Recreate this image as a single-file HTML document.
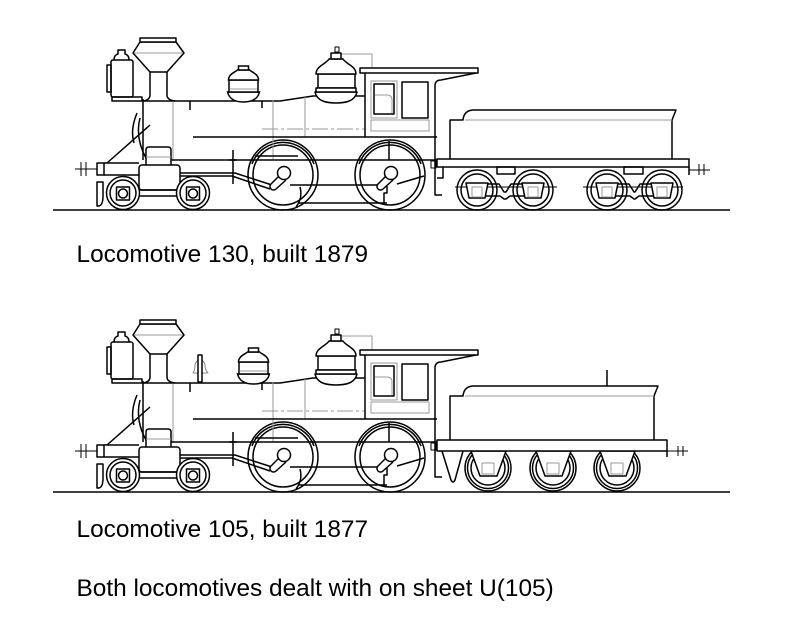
<!DOCTYPE html>
<html><head><meta charset="utf-8">
<style>
html,body{margin:0;padding:0;background:#fff;}
svg{display:block;}
text{font-family:"Liberation Sans",Arial,sans-serif;font-size:24.4px;fill:#000;}
</style></head><body>
<svg width="800" height="628" viewBox="0 0 800 628" xmlns="http://www.w3.org/2000/svg">
<defs>
<g id="dome" fill="#fff" stroke="#000" stroke-width="1.5">
  <path d="M-16,92 H16 C14,100 7,102 0,102 C-7,102 -14,100 -16,92 Z"/>
  <rect x="-14.5" y="80" width="29" height="12"/>
  <path d="M-15,80 C-15,74 -8,72 -6,70 H6 C8,72 15,74 15,80 Z"/>
  <rect x="-5" y="66" width="10" height="4"/>
  <path d="M-14,89 H14" stroke="#999" stroke-width="1" fill="none"/>
</g>
<g id="loco" fill="none" stroke="#000" stroke-width="1.5" stroke-linejoin="round">
  <!-- ground -->
  <path d="M53,210 H730"/>
  <!-- drivers -->
  <circle cx="283" cy="175" r="35"/>
  <circle cx="283" cy="175" r="30"/>
  <path d="M252,164 A33,33 0 0 1 314,164"/>
  <circle cx="390" cy="175" r="35"/>
  <circle cx="390" cy="175" r="30"/>
  <path d="M359,164 A33,33 0 0 1 421,164"/>
  <path d="M300,187 Q303,198 296,207 M389,141 V160 M387,186 V193 H384 V205"/>
  <!-- boiler -->
  <path d="M143,101 H280 L313,96 H365"/>
  <path d="M143,99 V160"/>
  <g stroke="#999" stroke-width="1">
    <path d="M173,101 V160 M273,100 V160 M305,97 V137"/>
    <path d="M262,129 H365" stroke-dasharray="16 3 3 3"/>
  </g>
  <path d="M190,101 V110 M262,101 V108"/>
  <path d="M193,137 H437"/>
  <path d="M171,160 H437"/>
  <path d="M255,156 H298"/>
  <!-- rods -->
  <path d="M180,173 H235 L272,185 M180,176 H232 L270,189"/>
  <path d="M290,185 H384 M397,184 L424,176 M298,203 H387"/>
  <path d="M233,150 V184 M229,160 H237"/>
  <path d="M279,176 L271,184 A3.5,3.5 0 0 0 276,189 L286,180" fill="#fff"/>
  <circle cx="284" cy="173" r="6.5" fill="#fff"/>
  <path d="M386,176 L378,184 A3.5,3.5 0 0 0 383,189 L393,180" fill="#fff"/>
  <circle cx="391" cy="173" r="6.5" fill="#fff"/>
  <!-- stack -->
  <path d="M140,42 L133,53 L150,72 H167 L184,53 L176,42 Z" fill="#fff"/>
  <path d="M134,53 H183" stroke="#999" stroke-width="1"/>
  <rect x="140" y="38" width="36" height="4" fill="#fff"/>
  <path d="M150,72 V95 Q150,100 143,101 M167,72 V95 Q167,100 175,101"/>
  <!-- headlamp -->
  <path d="M114,60 Q114,55 118,54 V50 H125 V54 Q129,55 129,60"/>
  <rect x="111" y="60" width="22" height="37" rx="2" fill="#fff"/>
  <rect x="107" y="65" width="4" height="27"/>
  <rect x="112" y="97" width="30" height="4"/>
  <!-- braces -->
  <path d="M107,163 L150,125"/>
  <path d="M137,113 Q130,130 134,143 M140,118 Q135,138 146,158"/>
  <!-- front -->
  <path d="M75,169 H97 M81,162 V176 M86,162 V176" stroke-width="1"/>
  <rect x="97" y="163" width="7" height="12"/>
  <path d="M104,163 H139 M104,175 H139"/>
  <path d="M97,182 H103 V196 Q103,205 99,206 H97 Z"/>
  <!-- cylinder -->
  <path d="M146,165 V150 Q146,147 149,147 H168 Q171,147 171,150 V165" fill="#fff"/>
  <path d="M146,157 H171" stroke="#999" stroke-width="1"/>
  <rect x="139" y="165" width="41" height="25" rx="3" fill="#fff"/>
  <!-- leading truck -->
  <path d="M140,190 H177 M140,196 H177"/>
  <circle cx="123" cy="193" r="16.5" fill="#fff"/>
  <circle cx="123" cy="193" r="13"/>
  <rect x="116.5" y="187" width="13" height="13"/>
  <circle cx="123" cy="193.5" r="4.5"/>
  <circle cx="193" cy="193" r="16.5" fill="#fff"/>
  <circle cx="193" cy="193" r="13"/>
  <rect x="186.5" y="187" width="13" height="13"/>
  <circle cx="193" cy="193.5" r="4.5"/>
  <!-- steam dome & whistle -->
  <path d="M341,54 H372 V68" stroke="#999" stroke-width="1"/>
  <rect x="335" y="47" width="4" height="5" stroke-width="1"/>
  <path d="M315,92 H357 C355,101 346,103 336,103 C326,103 317,101 315,92 Z" fill="#fff"/>
  <rect x="318" y="74" width="37" height="14" fill="#fff"/>
  <rect x="316" y="88" width="40" height="4" fill="#fff"/>
  <path d="M316,74 C316,66 326,64 329,59 H343 C346,64 356,66 356,74 Z" fill="#fff"/>
  <rect x="331" y="53" width="10" height="6" fill="#fff"/>
  <!-- cab -->
  <rect x="360" y="68" width="118" height="5" fill="#fff"/>
  <path d="M365,73 V137"/>
  <path d="M435,137 V86 Q435,80 441,80 L476,73"/>
  <rect x="371" y="81" width="26" height="37" stroke="#999" stroke-width="1"/>
  <rect x="374" y="84" width="20" height="30"/>
  <path d="M375,95 H387 Q392,95 392,100 V113" stroke="#999" stroke-width="1"/>
  <rect x="402" y="82" width="26" height="36"/>
  <rect x="371" y="120" width="58" height="11" stroke="#999" stroke-width="1"/>
  <!-- rear -->
  <path d="M435,137 V195 H442"/>
  <rect x="431" y="161" width="5" height="7" stroke-width="1"/>
</g>
</defs>

<!-- Locomotive 1 -->
<use href="#loco"/>
<use href="#dome" transform="translate(243.5,0)"/>
<g fill="none" stroke="#000" stroke-width="1.5" stroke-linejoin="round">
  <path d="M450,159 V120 H463 Q464,110 474,110 H676 L672,120 V159"/>
  <path d="M465,120 H672" stroke="#999" stroke-width="1"/>
  <rect x="437" y="159" width="252" height="8" fill="#fff"/>
  <path d="M689,167 V175 M443,167 V178 H437"/>
  <path d="M689,170 H710 M699,164 V175 M704,164 V175" stroke-width="1"/>
  <rect x="497" y="167" width="18" height="7"/>
  <rect x="624" y="167" width="19" height="7"/>
  <circle cx="477" cy="190" r="20"/><circle cx="477" cy="190" r="16"/>
  <circle cx="533" cy="190" r="20"/><circle cx="533" cy="190" r="16"/>
  <circle cx="607" cy="190" r="20"/><circle cx="607" cy="190" r="16"/>
  <circle cx="662" cy="190" r="20"/><circle cx="662" cy="190" r="16"/>
  <path d="M455,187 H557 M583,187 H683" stroke-width="1"/>
  <path d="M488,184 L499,184 L504,192 H506 L511,184 H522"/>
  <path d="M486,196 L500,196 L504,199 H506 L510,196 H524"/>
  <path d="M618,184 L629,184 L634,192 H635 L640,184 H651"/>
  <path d="M616,196 L630,196 L634,199 H635 L639,196 H653"/>
  <path d="M466,183 H488 L485,198 H469 Z" fill="#fff"/>
  <path d="M522,183 H544 L541,198 H525 Z" fill="#fff"/>
  <path d="M596,183 H618 L615,198 H599 Z" fill="#fff"/>
  <path d="M651,183 H673 L670,198 H654 Z" fill="#fff"/>
  <g stroke="#999" stroke-width="1">
    <rect x="472" y="187" width="10" height="10"/>
    <rect x="528" y="187" width="10" height="10"/>
    <rect x="602" y="187" width="10" height="10"/>
    <rect x="657" y="187" width="10" height="10"/>
  </g>
</g>

<!-- Locomotive 2 -->
<use href="#loco" transform="translate(0,282)"/>
<use href="#dome" transform="translate(253.5,282)"/>
<g fill="none" stroke="#000" stroke-width="1.5" stroke-linejoin="round">
  <path d="M193,373 Q195,370 195,365 Q196,360 200,360 Q204,360 205,365 Q205,370 208,373 Z" stroke="#888" stroke-width="1"/>
  <rect x="198" y="355" width="4" height="27" fill="#fff"/>
  <path d="M450,440 V396 H463 Q464,386 474,386 H658 L654,396 V440"/>
  <path d="M465,396 H654" stroke="#999" stroke-width="1"/>
  <path d="M607,370 V386"/>
  <circle cx="488" cy="468" r="23"/><circle cx="488" cy="468" r="20.5"/><circle cx="488" cy="468" r="17"/>
  <circle cx="553" cy="468" r="23"/><circle cx="553" cy="468" r="20.5"/><circle cx="553" cy="468" r="17"/>
  <circle cx="617" cy="468" r="23"/><circle cx="617" cy="468" r="20.5"/><circle cx="617" cy="468" r="17"/>
  <path d="M471,451 L480,476 H497 L506,451 Z" fill="#fff"/>
  <path d="M536,451 L545,476 H562 L571,451 Z" fill="#fff"/>
  <path d="M600,451 L609,476 H626 L635,451 Z" fill="#fff"/>
  <g stroke="#999" stroke-width="1">
    <rect x="482" y="463" width="12" height="11"/>
    <rect x="547" y="463" width="12" height="11"/>
    <rect x="611" y="463" width="12" height="11"/>
  </g>
  <rect x="437" y="440" width="230" height="11" fill="#fff"/>
  <path d="M442,451 L451,480 Q453,484 455,480 L463,451"/>
  <path d="M667,451 V457"/>
  <path d="M667,451 H688 M678,446 V456 M683,446 V456" stroke-width="1"/>
</g>

<text x="76.5" y="262">Locomotive 130, built 1879</text>
<text x="76.5" y="537">Locomotive 105, built 1877</text>
<text x="76.5" y="596">Both locomotives dealt with on sheet U(105)</text>
</svg>
</body></html>
